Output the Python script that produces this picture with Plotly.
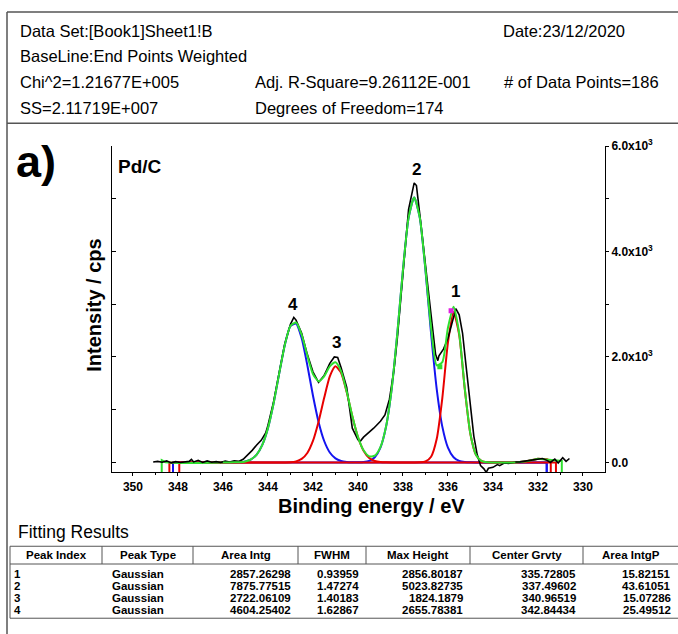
import plotly.graph_objects as go

W, H = 678, 634
FONT = "Arial, Liberation Sans, sans-serif"

# ---------------- data ----------------
# experimental spectrum (binding energy eV, intensity cps)
data_x = [349.1, 348.9, 348.7, 348.5, 348.3, 348.1, 347.9, 347.7, 347.5, 347.4, 347.3, 347.1,
          346.9, 346.7, 346.5, 346.3, 346.1, 345.9, 345.7, 345.5, 345.3, 345.1, 344.9, 344.7,
          344.5, 344.3, 344.1, 344.0, 343.75, 343.5, 343.25, 343.0, 342.85, 342.75, 342.5,
          342.25, 342.0, 341.75, 341.5, 341.25, 341.05, 340.9, 340.75, 340.5, 340.25, 340.0,
          339.9, 339.75, 339.5, 339.3, 339.0, 338.8, 338.6, 338.4, 338.25, 338.0, 337.75,
          337.5, 337.4, 337.25, 337.0, 336.75, 336.55, 336.45, 336.4, 336.2, 336.0, 335.8,
          335.65, 335.5, 335.35, 335.2, 335.0, 334.85, 334.7, 334.55, 334.4, 334.3, 334.2,
          334.0, 333.8, 333.7, 333.5, 333.3, 333.0, 332.8, 332.5, 332.2, 332.0, 331.8, 331.6,
          331.45, 331.25, 331.1, 330.9, 330.75, 330.6]
data_y = [10, 20, 5, 30, -10, 15, 0, 10, 20, 60, 10, 40,
          0, 30, 5, 15, 0, 25, 10, 30, 20, 60, 140, 230,
          330, 420, 560, 700, 1150, 1720, 2250, 2620, 2750, 2700, 2450,
          2050, 1720, 1520, 1650, 1880, 2000, 1990, 1800, 1430, 650, 430,
          400, 480, 570, 650, 780, 900, 1200, 1750, 2350, 3650, 4800,
          5300, 5250, 4700, 3800, 2800, 2050, 1930, 2020, 2150, 2350, 2700,
          2916, 2800, 2450, 1850, 1000, 500, 150, -60, -120, -187, -110,
          -93, -40, -60, -10, -20, 10, 12, 30, 50, 62, 75, 40,
          0, 62, -10, 90, 20, 75]

# sampling grid of the fitted peaks (eV)
grid = [346.0, 345.75, 345.5, 345.25, 345.0, 344.75, 344.5, 344.25, 344.0, 343.75, 343.5,
        343.25, 343.0, 342.75, 342.5, 342.25, 342.0, 341.75, 341.5, 341.25, 341.0, 340.75,
        340.5, 340.25, 340.0, 339.75, 339.5, 339.25, 339.0, 338.75, 338.5, 338.25, 338.0,
        337.75, 337.5, 337.25, 337.0, 336.75, 336.5, 336.25, 336.0, 335.75, 335.5, 335.25,
        335.0, 334.75, 334.5, 334.25, 334.0, 333.75, 333.5, 333.25, 333.0]
peak4 = [0, 1, 2, 6, 20, 59, 149, 333, 651, 1118, 1685, 2228, 2586, 2634, 2354, 1846, 1270,
         768, 407, 189, 77, 28, 9, 2] + [0] * 29
peak3 = [0] * 11 + [1, 5, 21, 67, 180, 408, 773, 1226, 1633, 1823, 1703, 1335, 877, 483, 223,
                    86, 28, 8, 2] + [0] * 23
peak2 = [0] * 24 + [2, 8, 30, 100, 282, 680, 1397, 2445, 3648, 4638, 5024, 4638, 3648, 2445,
                    1397, 680, 282, 100, 30, 8, 2] + [0] * 8
peak1 = [0] * 35 + [2, 18, 109, 444, 1222, 2272, 2853, 2420, 1386, 535, 140, 25, 3] + [0] * 5
envelope = [a + b + c + d for a, b, c, d in zip(peak1, peak2, peak3, peak4)]

# ends of the fitted curves (eV) where they drop off
left_ends = {"p4": 348.22, "p2": 348.22, "p3": 348.38, "p1": 347.94, "env": 348.72}
right_ends = {"p4": 331.61, "p2": 331.61, "p3": 331.2, "p1": 331.43, "env": 330.94}
env_left_x = [348.55, 348.0, 347.0]
env_left_y = [5, -10, -10]
env_right_x = [333.0, 332.5, 332.0, 331.6, 331.2]
env_right_y = [0, 25, 70, 60, 40]

peak_labels = ["1", "2", "3", "4"]
peak_label_x = [335.65, 337.38, 340.94, 342.87]
peak_label_y = [3250, 5560, 2275, 2990]

# fitting results table
tbl_header = ["Peak Index", "Peak Type", "Area Intg", "FWHM", "Max Height", "Center Grvty", "Area IntgP"]
tbl_index = ["1", "2", "3", "4"]
tbl_type = ["Gaussian"] * 4
tbl_area = ["2857.26298", "7875.77515", "2722.06109", "4604.25402"]
tbl_fwhm = ["0.93959", "1.47274", "1.40183", "1.62867"]
tbl_height = ["2856.80187", "5023.82735", "1824.1879", "2655.78381"]
tbl_center = ["335.72805", "337.49602", "340.96519", "342.84434"]
tbl_areap = ["15.82151", "43.61051", "15.07286", "25.49512"]

y_ticks = [0, 2000, 4000, 6000]
y_ticktext = ["0.0", "2.0x10<sup>3</sup>", "4.0x10<sup>3</sup>", "6.0x10<sup>3</sup>"]
x_ticks = [350, 348, 346, 344, 342, 340, 338, 336, 334, 332, 330]

YMIN, YMAX = -187, 6000
XL, XR = 350.93, 329.02

BLUE = "#1414f0"
RED = "#e80000"
GREEN = "#2fe02f"

fig = go.Figure()


def add_line(x, y, color, width=2, shape="linear"):
    fig.add_trace(go.Scatter(x=x, y=y, mode="lines",
                             line=dict(color=color, width=width, shape=shape,
                                       smoothing=0.6 if shape == "spline" else None),
                             showlegend=False, hoverinfo="skip"))


# flat baseline parts of the component curves, with their end drops
for key, col in [("p4", BLUE), ("p2", BLUE), ("p3", RED)]:
    L, R = left_ends[key], right_ends[key]
    add_line([L, L, grid[0]], [YMIN, 0, 0], col)
    add_line([grid[-1], R, R], [0, 0, YMIN], col)
L, R = left_ends["p1"], right_ends["p1"]
add_line([L, L, grid[0]], [YMIN, 0, 0], RED)
add_line(env_right_x[:-1] + [R, R], env_right_y[:-1] + [30, YMIN], RED)
L, R = left_ends["env"], right_ends["env"]
add_line([L, L] + env_left_x + [grid[0]], [YMIN, 45] + env_left_y + [0], GREEN)
add_line(env_right_x + [R, R], env_right_y + [30, YMIN], GREEN)

# component peaks
for arr, col in [(peak4, BLUE), (peak2, BLUE), (peak3, RED), (peak1, RED)]:
    add_line(grid, arr, col, 2, "spline")

# experimental data
add_line(data_x, data_y, "black", 1.6)
# cumulative fit
add_line(grid, envelope, GREEN, 2, "spline")

# small point markers
fig.add_trace(go.Scatter(x=[335.86], y=[2878], mode="markers",
                         marker=dict(color="#e020e0", size=5, symbol="square"), showlegend=False))
fig.add_trace(go.Scatter(x=[336.36], y=[1813], mode="markers",
                         marker=dict(color=GREEN, size=5, symbol="square"), showlegend=False))
# trace for the right axis
fig.add_trace(go.Scatter(x=[340], y=[0], yaxis="y2", mode="markers",
                         marker=dict(opacity=0), showlegend=False, hoverinfo="skip"))

# peak number labels
for t, x, y in zip(peak_labels, peak_label_x, peak_label_y):
    fig.add_annotation(x=x, y=y, xref="x", yref="y", text=t, showarrow=False,
                       font=dict(family=FONT, size=17, color="black", weight="bold"))


def X(p):
    return p / W


def Y(p):
    return 1 - p / H


ann = []


def txt(x, y, s, size=15, anchor="left", bold=False, angle=0):
    ann.append(dict(x=X(x), y=Y(y), xref="paper", yref="paper", text=s, showarrow=False,
                    xanchor=anchor, yanchor="middle", textangle=angle, borderpad=0,
                    font=dict(family=FONT, size=size, color="black",
                              weight="bold" if bold else "normal")))


# header
HS = 16.5
txt(19, 22, "Data Set:[Book1]Sheet1!B", HS)
txt(502, 22, "Date:23/12/2020", HS)
txt(19, 48, "BaseLine:End Points Weighted", HS)
txt(19, 74, "Chi^2=1.21677E+005", HS)
txt(254, 74, "Adj. R-Square=9.26112E-001", HS)
txt(503, 74, "# of Data Points=186", HS)
txt(19, 100, "SS=2.11719E+007", HS)
txt(254, 100, "Degrees of Freedom=174", HS)

# chart texts
txt(15, 155, "a)", size=45, bold=True)
txt(117, 160, "Pd/C", size=19, bold=True)
txt(371, 504, "Binding energy / eV", size=20, bold=True, anchor="center")
txt(94, 301, "Intensity / cps", size=20, bold=True, anchor="center", angle=-90)

# table
txt(17, 531, "Fitting Results", size=17.5)
col_edges = [10, 102, 193, 298, 366, 470, 583, 678]
row_y = [554, 573, 585.3, 597.6, 610]
TS = 11.5
for i, h in enumerate(tbl_header):
    txt((col_edges[i] + col_edges[i + 1]) / 2, row_y[0], h, size=TS, anchor="center", bold=True)
for r in range(4):
    yy = row_y[r + 1]
    txt(13, yy, tbl_index[r], size=TS, bold=True)
    txt(111, yy, tbl_type[r], size=TS, bold=True)
    vals = [tbl_area[r], tbl_fwhm[r], tbl_height[r], tbl_center[r], tbl_areap[r]]
    for c, v in enumerate(vals):
        txt(col_edges[c + 3] - 6, yy, v, size=TS, bold=True, anchor="right")

shapes = []


def line(x0, y0, x1, y1, w=1, col="#555555"):
    shapes.append(dict(type="line", xref="paper", yref="paper", x0=X(x0), y0=Y(y0),
                       x1=X(x1), y1=Y(y1), line=dict(color=col, width=w)))


# outer frame
line(7, 3, 678, 3, 1.5)
line(7, 3, 7, 634, 1.5)
line(7, 116, 678, 116, 1.5)
# table lines
line(10, 545, 678, 545)
line(10, 563, 678, 563)
line(10, 618, 678, 618)
for e in col_edges[:-1]:
    line(e, 545, e, 563)
line(10, 563, 10, 618)

fig.update_layout(
    width=W, height=H, margin=dict(l=0, r=0, t=0, b=0),
    paper_bgcolor="white", plot_bgcolor="rgba(0,0,0,0)",
    showlegend=False, annotations=fig.layout.annotations + tuple(ann), shapes=shapes,
    xaxis=dict(domain=[X(112), X(605)], range=[XL, XR], tickvals=x_ticks,
               ticks="outside", ticklen=3, tickcolor="black", showline=True, linecolor="black",
               linewidth=1, showgrid=False, zeroline=False,
               minor=dict(dtick=1, ticks="outside", ticklen=2, tickcolor="black"),
               tickfont=dict(family=FONT, size=12, color="black", weight="bold")),
    yaxis=dict(domain=[Y(470), Y(139)], range=[YMIN, YMAX], tick0=0, dtick=1000,
               ticks="inside", ticklen=4, tickcolor="black", showticklabels=False,
               showline=True, linecolor="black", linewidth=1, showgrid=False, zeroline=False),
    yaxis2=dict(overlaying="y", anchor="x", side="right", range=[YMIN, YMAX],
                tickvals=y_ticks, ticktext=y_ticktext, ticks="outside", ticklen=3,
                tickcolor="black", showline=True, linecolor="black", linewidth=1,
                showgrid=False, zeroline=False,
                minor=dict(tickvals=[1000, 3000, 5000], ticks="outside", ticklen=3, tickcolor="black"),
                tickfont=dict(family=FONT, size=12, color="black", weight="bold")),
)

# remove the default 8px page margin so the figure sits at the window origin
fig.write_html("out.html", config={"displayModeBar": False},
               post_script="document.body.style.margin='0px';")
